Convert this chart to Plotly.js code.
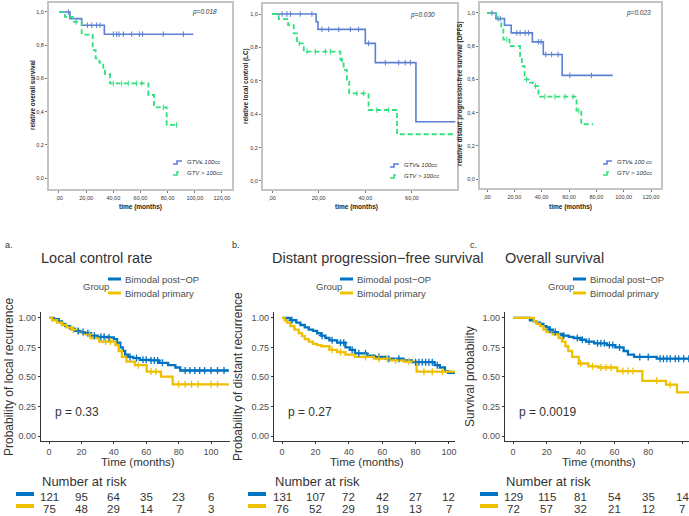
<!DOCTYPE html>
<html><head><meta charset="utf-8">
<script src="https://cdn.plot.ly/plotly-3.0.1.min.js"></script>
<style>html,body{margin:0;padding:0;background:#fff}#chart{width:689px;height:516px}</style>
</head><body><div id="chart"></div>
<script>
// ---------- DATA: top row (SPSS Kaplan-Meier, GTV groups) ----------
const groupsTop = ['GTV\u2264 100cc', 'GTV > 100cc'];
// A: relative overall survival
const osSmallT = [0, 8.1, 16.7, 33.4, 98.9];
const osSmallS = [1, 0.96, 0.92, 0.866, 0.866];
const osSmallCens = [6.9, 20.9, 24.1, 27.7, 30.2, 40, 42.5, 44.2, 47.4, 53.5, 59.2, 61.6, 76.8, 91.6];
const osLargeT = [0, 4.4, 10.1, 16.7, 24.8, 27, 29.7, 32.6, 33.9, 37.6, 65.8, 70, 79.3, 86.6];
const osLargeS = [1, 0.97, 0.94, 0.864, 0.77, 0.72, 0.695, 0.645, 0.626, 0.57, 0.5, 0.426, 0.32, 0.32];
const osLargeCens = [12.5, 40, 46.1, 51, 57.2, 60.9, 76.8, 86.6];
// B: relative local control (LC)
const lcSmallT = [0, 18.9, 19.7, 40, 44.3, 61.7, 78.6];
const lcSmallS = [1, 0.954, 0.908, 0.824, 0.709, 0.355, 0.355];
const lcSmallCens = [4.3, 6.4, 7.9, 12.1, 17.1, 21.4, 24.3, 28.6, 33.6, 37.1, 41.4, 48.6, 54.3, 57.1, 59.3];
const lcLargeT = [0, 2.9, 6.9, 9.3, 10.7, 13.6, 29.3, 30.7, 32.1, 33.1, 41.4, 53.6, 78.6];
const lcLargeS = [1, 0.97, 0.934, 0.884, 0.824, 0.775, 0.725, 0.665, 0.605, 0.525, 0.425, 0.28, 0.28];
const lcLargeCens = [11.7, 15, 18.6, 22.9, 25, 30, 36.4, 39.3, 45, 50];
// C: relative distant progression-free survival (DPFS)
const dpSmallT = [0, 6.5, 12.8, 17.7, 33.2, 41.2, 55, 92];
const dpSmallS = [1, 0.966, 0.926, 0.88, 0.826, 0.75, 0.624, 0.624];
const dpSmallCens = [3.6, 8, 9.7, 21.8, 24.2, 27.9, 30.3, 37.6, 39.5, 43, 47.3, 52, 60.6, 76.4];
const dpLargeT = [0, 6.5, 10.5, 12, 16.5, 24.2, 25.5, 27.5, 31.5, 33.5, 37.6, 65.5, 69, 77.6];
const dpLargeS = [1, 0.966, 0.9, 0.84, 0.8, 0.74, 0.68, 0.6, 0.58, 0.56, 0.496, 0.412, 0.33, 0.33];
const dpLargeCens = [14.5, 29, 35.5, 42.4, 49.7, 57, 63, 67.2];
const pTop = ['p=0.018', 'p=0.030', 'p=0.023'];
const yTitlesTop = ['relative overall survival', 'relative local control (LC)', 'relative distant progression-free survival (DPFS)'];
const xTicksTop = [0, 20, 40, 60, 80, 100, 120];
const xTickTextTop = [',00', '20,00', '40,00', '60,00', '80,00', '100,00', '120,00'];
const yTicksTop = [0, 0.2, 0.4, 0.6, 0.8, 1.0];
const yTickTextTop = ['0,0', '0,2', '0,4', '0,6', '0,8', '1,0'];

// ---------- DATA: bottom row (survminer, Bimodal groups) ----------
const groupsBot = ['Bimodal post\u2212OP', 'Bimodal primary'];
// a. Local control rate
const aPostT = [0, 3, 6, 8, 10, 13, 16, 19, 22, 26, 30, 36, 40, 42, 44, 45.5, 47, 49, 52, 56, 62, 68, 73.5, 78, 81, 111];
const aPostS = [1, 0.99, 0.97, 0.95, 0.93, 0.91, 0.89, 0.88, 0.87, 0.85, 0.84, 0.835, 0.82, 0.79, 0.75, 0.72, 0.69, 0.67, 0.66, 0.645, 0.64, 0.62, 0.6, 0.58, 0.555, 0.555];
const aPostCens = [18, 21, 24, 28, 32, 34, 37, 50, 54, 58, 60, 63, 65, 67, 70, 84, 87, 90, 93, 96, 100, 104, 108];
const aPrimT = [0, 2, 5, 8, 11, 14, 18, 22, 26, 31, 41, 43, 45, 47.8, 53, 60.3, 69.1, 76.3, 111];
const aPrimS = [1, 0.98, 0.96, 0.94, 0.92, 0.9, 0.88, 0.86, 0.83, 0.8, 0.77, 0.72, 0.67, 0.63, 0.6, 0.546, 0.503, 0.438, 0.438];
const aPrimCens = [15, 25, 35, 38, 55, 63, 66, 80, 84, 88, 92, 100, 104];
// b. Distant progression-free survival
const bPostT = [0, 5, 8.6, 11, 13.6, 16, 18.5, 21, 23.5, 26, 28.4, 33, 38, 40.7, 43.7, 50.6, 55.5, 62, 72.8, 77.8, 91.4, 94.5, 97.6, 99.5, 104];
const bPostS = [1, 0.98, 0.96, 0.94, 0.92, 0.9, 0.89, 0.87, 0.85, 0.83, 0.81, 0.79, 0.75, 0.73, 0.7, 0.68, 0.67, 0.655, 0.64, 0.625, 0.6, 0.58, 0.55, 0.535, 0.535];
const bPostCens = [6, 24, 30, 35, 37, 42, 46, 50, 58, 64, 70, 80, 82, 84, 86, 88, 90, 93];
const bPrimT = [0, 1.5, 3, 5, 7.4, 10, 12, 13.6, 16, 18.5, 21, 23.5, 28.4, 33, 38, 43.7, 55, 65, 72.8, 80.6, 104];
const bPrimS = [1, 0.98, 0.96, 0.93, 0.9, 0.87, 0.845, 0.82, 0.8, 0.78, 0.77, 0.76, 0.73, 0.71, 0.69, 0.67, 0.655, 0.64, 0.63, 0.545, 0.545];
const bPrimCens = [30, 35, 50, 58, 63, 68, 76, 85, 90, 96];
// c. Overall survival
const cPostT = [0, 10, 12.3, 14, 16, 18, 19.8, 21.5, 23.5, 26.5, 29.6, 33, 35.8, 40, 43.2, 48, 55.5, 60.5, 65.4, 68, 71.6, 85, 105];
const cPostS = [1, 0.98, 0.97, 0.96, 0.95, 0.93, 0.92, 0.9, 0.88, 0.865, 0.85, 0.84, 0.83, 0.815, 0.8, 0.785, 0.77, 0.75, 0.72, 0.69, 0.67, 0.655, 0.655];
const cPostCens = [22, 25, 30, 38, 41, 45, 50, 52, 54, 57, 59, 63, 75, 80, 87, 89, 91, 93, 96, 98, 101, 104];
const cPrimT = [0, 12.3, 14, 16, 18, 19.8, 23.5, 27, 29, 31, 32.7, 35, 38.9, 44.6, 50.6, 61.7, 76.5, 90.5, 97, 105];
const cPrimS = [1, 0.97, 0.95, 0.93, 0.9, 0.88, 0.86, 0.83, 0.8, 0.76, 0.72, 0.67, 0.614, 0.59, 0.58, 0.55, 0.467, 0.435, 0.37, 0.37];
const cPrimCens = [40, 47, 52, 55, 58, 65, 68, 71, 85, 93];
const pBot = ['p = 0.33', 'p = 0.27', 'p = 0.0019'];
const titlesBot = ['Local control rate', 'Distant progression\u2212free survival', 'Overall survival'];
const labelsBot = ['a.', 'b.', 'c.'];
const yTitlesBot = ['Probability of local recurrence', 'Probability of distant recurrence', 'Survival probability'];
const xTicksBot = [0, 20, 40, 60, 80, 100];
const yTicksBot = [0, 0.25, 0.5, 0.75, 1.0];
const yTickTextBot = ['0.00', '0.25', '0.50', '0.75', '1.00'];
const riskTimes = [0, 20, 40, 60, 80, 100];
const riskAPost = [121, 95, 64, 35, 23, 6];
const riskAPrim = [75, 48, 29, 14, 7, 3];
const riskBPost = [131, 107, 72, 42, 27, 12];
const riskBPrim = [76, 52, 29, 19, 13, 7];
const riskCPost = [129, 115, 81, 54, 35, 14];
const riskCPrim = [72, 57, 32, 21, 12, 7];

// ---------- helpers ----------
const W = 689, H = 516;
const px = x => x / W, py = y => 1 - y / H;
const FONT = 'Liberation Sans, Arial, sans-serif';
const BLUE_T = '#5b80d2', GREEN_T = '#2fe07c';
const BLUE_B = '#0073C2', YEL_B = '#EFC000';
function stepVal(T, S, t) { let v = S[0]; for (let i = 0; i < T.length; i++) { if (T[i] <= t) v = S[i]; } return v; }
const traces = [];
function curve(T, S, ax, color, width, dash) {
  traces.push({ x: T, y: S, type: 'scatter', mode: 'lines', line: { shape: 'hv', color: color, width: width, dash: dash || 'solid' },
    xaxis: 'x' + ax, yaxis: 'y' + ax, hoverinfo: 'skip', showlegend: false });
}
function cens(C, T, S, ax, color, symbol, size, lw) {
  traces.push({ x: C, y: C.map(t => stepVal(T, S, t)), type: 'scatter', mode: 'markers',
    marker: { symbol: symbol, size: size, color: color, line: { color: color, width: lw } },
    xaxis: 'x' + ax, yaxis: 'y' + ax, hoverinfo: 'skip', showlegend: false });
}
const ann = [];
function txt(text, x, y, o) {
  o = o || {};
  ann.push(Object.assign({ text: text, x: px(x), y: py(y), xref: 'paper', yref: 'paper', showarrow: false,
    xanchor: 'left', yanchor: 'middle', borderpad: 0, font: { family: FONT, size: 10, color: '#333' } }, o));
}
const shapes = [];

// ---------- top panels ----------
const topDefs = [
  { ax: '', xd: [49, 232], xr: [-7.36, 127.4], yd: [3, 189], yr: [-0.066, 1.054], ticks: 7,
    sm: [osSmallT, osSmallS, osSmallCens], lg: [osLargeT, osLargeS, osLargeCens],
    p: [218, 12], yt: [32, 95], xt: 140, leg: [173, 162, 173], legTxt: groupsTop },
  { ax: '2', xd: [263, 457], xr: [-3.86, 79.3], yd: [4, 189], yr: [-0.048, 1.06], ticks: 4,
    sm: [lcSmallT, lcSmallS, lcSmallCens], lg: [lcLargeT, lcLargeS, lcLargeCens],
    p: [436, 15], yt: [246, 86], xt: 356, leg: [390, 165, 176], legTxt: groupsTop },
  { ax: '3', xd: [480, 661], xr: [-5.12, 127.3], yd: [3, 188], yr: [-0.054, 1.06], ticks: 7,
    sm: [dpSmallT, dpSmallS, dpSmallCens], lg: [dpLargeT, dpLargeS, dpLargeCens],
    p: [652, 13], yt: [460, 94], xt: 570, leg: [603, 162, 173], legTxt: ['GTV\u2264 100 cc', 'GTV > 100cc'] }
];
const layout = {
  width: W, height: H, margin: { l: 0, r: 0, t: 0, b: 0 }, paper_bgcolor: '#fff', plot_bgcolor: 'rgba(0,0,0,0)',
  showlegend: false, font: { family: FONT }, annotations: ann, shapes: shapes
};
topDefs.forEach((d, i) => {
  const ax = d.ax;
  curve(d.sm[0], d.sm[1], ax, BLUE_T, 1.6);
  curve(d.lg[0], d.lg[1], ax, GREEN_T, 1.8, '5px,3px');
  cens(d.sm[2], d.sm[0], d.sm[1], ax, BLUE_T, 'line-ns', 4, 1);
  cens(d.lg[2], d.lg[0], d.lg[1], ax, GREEN_T, 'line-ns', 4, 1);
  layout['xaxis' + ax] = { domain: [px(d.xd[0]), px(d.xd[1])], range: d.xr, anchor: 'y' + ax,
    tickvals: xTicksTop.slice(0, d.ticks), ticktext: xTickTextTop.slice(0, d.ticks),
    showline: true, mirror: true, linecolor: '#c4c4c4', linewidth: 2, ticks: 'outside', ticklen: 2, tickcolor: '#777',
    tickfont: { size: 5.5, color: '#333', family: FONT }, showgrid: false, zeroline: false, fixedrange: true };
  layout['yaxis' + ax] = { domain: [py(d.yd[1]), py(d.yd[0])], range: d.yr, anchor: 'x' + ax,
    tickvals: yTicksTop, ticktext: yTickTextTop,
    showline: true, mirror: true, linecolor: '#c4c4c4', linewidth: 2, ticks: 'outside', ticklen: 2, tickcolor: '#777',
    tickfont: { size: 5.5, color: '#333', family: FONT }, showgrid: false, zeroline: false, fixedrange: true };
  txt('<i>' + pTop[i] + '</i>', d.p[0], d.p[1], { xanchor: 'right', font: { family: FONT, size: 6.5, color: '#333' } });
  txt('<b>' + yTitlesTop[i] + '</b>', d.yt[0], d.yt[1], { xanchor: 'center', textangle: -90, font: { family: FONT, size: 6.3, color: '#222' } });
  txt('<b>time (months)</b>', d.xt, 207, { xanchor: 'center', font: { family: FONT, size: 6.5, color: '#222' } });
  const lx = d.leg[0];
  [[d.leg[1], BLUE_T], [d.leg[2], GREEN_T]].forEach((r, k) => {
    const y = r[0];
    shapes.push({ type: 'path', xref: 'paper', yref: 'paper',
      path: 'M' + px(lx) + ',' + py(y + 2) + ' L' + px(lx + 4) + ',' + py(y + 2) + ' L' + px(lx + 4) + ',' + py(y - 1) + ' L' + px(lx + 9) + ',' + py(y - 1),
      line: { color: r[1], width: 1.6, dash: k === 1 ? 'dash' : 'solid' } });
    txt('<i>' + d.legTxt[k] + '</i>', lx + 13, y, { font: { family: FONT, size: 6, color: '#333' } });
  });
});

// ---------- bottom panels ----------
const botDefs = [
  { ax: '4', xd: [41, 230], xr: [-4.94, 111.7], post: [aPostT, aPostS, aPostCens], prim: [aPrimT, aPrimS, aPrimCens],
    risk: [riskAPost, riskAPrim], lab: 4, title: 40, ytx: 9, grp: 82, legL: 108, bar: 16 },
  { ax: '5', xd: [274, 455], xr: [-4.8, 103.6], post: [bPostT, bPostS, bPostCens], prim: [bPrimT, bPrimS, bPrimCens],
    risk: [riskBPost, riskBPrim], lab: 231, title: 271, ytx: 238, grp: 315, legL: 340, bar: 248 },
  { ax: '6', xd: [505, 689], xr: [-4.73, 104.1], post: [cPostT, cPostS, cPostCens], prim: [cPrimT, cPrimS, cPrimCens],
    risk: [riskCPost, riskCPrim], lab: 469, title: 504, ytx: 470, grp: 547, legL: 573, bar: 480 }
];
botDefs.forEach((d, i) => {
  const ax = d.ax;
  curve(d.post[0], d.post[1], ax, BLUE_B, 2.3);
  curve(d.prim[0], d.prim[1], ax, YEL_B, 2.3);
  cens(d.post[2], d.post[0], d.post[1], ax, BLUE_B, 'cross-thin', 5, 1.3);
  cens(d.prim[2], d.prim[0], d.prim[1], ax, YEL_B, 'cross-thin', 5, 1.3);
  layout['xaxis' + ax] = { domain: [px(d.xd[0]), px(d.xd[1])], range: d.xr, anchor: 'y' + ax,
    tickvals: xTicksBot, showline: true, linecolor: '#333', linewidth: 1.2, ticks: 'outside', ticklen: 2, tickcolor: '#333',
    tickfont: { size: 9, color: '#4d4d4d', family: FONT }, showgrid: false, zeroline: false, fixedrange: true };
  layout['yaxis' + ax] = { domain: [py(441), py(312)], range: [-0.042, 1.05], anchor: 'x' + ax,
    tickvals: yTicksBot, ticktext: yTickTextBot, showline: true, linecolor: '#333', linewidth: 1.2, ticks: 'outside', ticklen: 2, tickcolor: '#333',
    tickfont: { size: 9, color: '#4d4d4d', family: FONT }, showgrid: false, zeroline: false, fixedrange: true };
  txt(labelsBot[i], d.lab, 245, { font: { family: FONT, size: 9, color: '#333' } });
  txt(titlesBot[i], d.title, 258, { font: { family: FONT, size: 14.5, color: '#333' } });
  txt(yTitlesBot[i], d.ytx, 377, { xanchor: 'center', textangle: -90, font: { family: FONT, size: 12, color: '#333' } });
  txt('Time (months)', (d.xd[0] + d.xd[1]) / 2 + 2, 462, { xanchor: 'center', font: { family: FONT, size: 11.5, color: '#333' } });
  txt(pBot[i], d.xd[0] + 13, 412, { font: { family: FONT, size: 12, color: '#333' } });
  txt('Group', d.grp, 286, { font: { family: FONT, size: 9.5, color: '#4d4d4d' } });
  [[279, BLUE_B], [293, YEL_B]].forEach((r, k) => {
    shapes.push({ type: 'line', xref: 'paper', yref: 'paper', x0: px(d.legL), x1: px(d.legL + 13), y0: py(r[0]), y1: py(r[0]),
      line: { color: r[1], width: 3 } });
    txt(groupsBot[k], d.legL + 16, r[0], { font: { family: FONT, size: 9.5, color: '#4d4d4d' } });
  });
  txt('Number at risk', d.xd[0], 481, { font: { family: FONT, size: 13, color: '#333' } });
  [[497, 494, BLUE_B], [508.5, 506, YEL_B]].forEach((r, k) => {
    shapes.push({ type: 'line', xref: 'paper', yref: 'paper', x0: px(d.bar), x1: px(d.bar + 18), y0: py(r[1]), y1: py(r[1]),
      line: { color: r[2], width: 4 } });
    d.risk[k].forEach((n, j) => {
      ann.push({ text: String(n), x: riskTimes[j], xref: 'x' + ax, y: py(r[0]), yref: 'paper', showarrow: false,
        xanchor: 'center', yanchor: 'middle', borderpad: 0, font: { family: FONT, size: 11.5, color: '#333' } });
    });
  });
});

Plotly.newPlot('chart', traces, layout, { displayModeBar: false, staticPlot: true });
</script></body></html>
